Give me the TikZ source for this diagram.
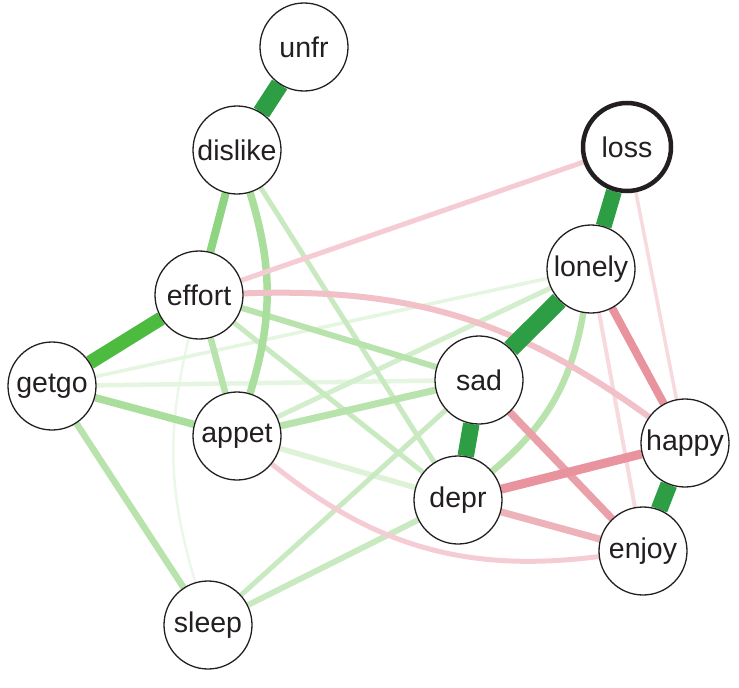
\documentclass[tikz,border=0pt]{standalone}
\usepackage{fontspec}
\setmainfont{Liberation Sans}
\pgfdeclarelayer{bg}
\pgfsetlayers{bg,main}
\definecolor{ink}{HTML}{231F20}
\definecolor{gA}{HTML}{2E9E45}
\definecolor{gB}{HTML}{4CBB3F}
\definecolor{gC}{HTML}{8FD581}
\definecolor{gD}{HTML}{A9DE9C}
\definecolor{gE}{HTML}{B8E3AC}
\definecolor{gF}{HTML}{C9EAC0}
\definecolor{gG}{HTML}{D3EECC}
\definecolor{gH}{HTML}{DDF2D7}
\definecolor{gI}{HTML}{E4F5E0}
\definecolor{gJ}{HTML}{EBF7E8}
\definecolor{pA}{HTML}{E8939D}
\definecolor{pB}{HTML}{E9A0A9}
\definecolor{pC}{HTML}{EEB2BB}
\definecolor{pD}{HTML}{F2C0C7}
\definecolor{pE}{HTML}{F5CCD3}
\definecolor{pF}{HTML}{F7DADE}
\tikzset{
  vnode/.style={circle,draw=ink,line width=1.3pt,fill=white,minimum size=88pt,inner sep=0pt,
    font=\fontsize{28.5}{30}\selectfont,text=ink},
  focus/.style={vnode,line width=4.5pt},
  edge/.style={line cap=butt}
}
\begin{document}
\begin{tikzpicture}[x=1pt,y=1pt]
\useasboundingbox (0,0) rectangle (739,-688);
\node[vnode] (unfr) at (304,-47) {unfr};
\node[vnode] (dislike) at (237,-150) {dislike};
\node[focus] (loss) at (627,-147) {loss};
\node[vnode] (lonely) at (591,-269) {lonely};
\node[vnode] (effort) at (199,-295) {effort};
\node[vnode] (getgo) at (52,-386) {getgo};
\node[vnode] (sad) at (479,-380) {sad};
\node[vnode] (appet) at (237,-436) {appet};
\node[vnode] (happy) at (685,-443) {happy};
\node[vnode] (depr) at (458,-500) {depr};
\node[vnode] (enjoy) at (643,-551) {enjoy};
\node[vnode] (sleep) at (208,-625) {sleep};
\begin{pgfonlayer}{bg}
% faint edges
\draw[edge,gJ,line width=2.5] (effort) to[bend right=15] (sleep);
\draw[edge,gI,line width=3.5] (getgo) -- (lonely);
\draw[edge,gI,line width=4.5] (getgo) -- (sad);
\draw[edge,gH,line width=5.5] (appet) -- (depr);
\draw[edge,gG,line width=5] (appet) -- (lonely);
\draw[edge,gF,line width=5] (dislike) -- (depr);
\draw[edge,gF,line width=5] (effort) -- (depr);
\draw[edge,gF,line width=5] (sad) -- (sleep);
\draw[edge,gF,line width=6] (depr) -- (sleep);
\draw[edge,gE,line width=6.5] (getgo) -- (sleep);
\draw[edge,gE,line width=6] (effort) -- (sad);
\draw[edge,gE,line width=6.5] (effort) -- (appet);
\draw[edge,gE,line width=6.5] (lonely) to[bend left=20] (depr);
\draw[edge,gE,line width=7] (appet) -- (sad);
\draw[edge,gD,line width=7.5] (getgo) -- (appet);
\draw[edge,gD,line width=7.5] (dislike) to[bend left=17] (appet);
\draw[edge,gC,line width=8] (dislike) -- (effort);
% pink edges
\draw[edge,pF,line width=3.5] (loss) -- (happy);
\draw[edge,pF,line width=4] (lonely) -- (enjoy);
\draw[edge,pE,line width=5] (loss) -- (effort);
\draw[edge,pE,line width=5] (appet) to[bend right=23] (enjoy);
\draw[edge,pD,line width=6] (effort) to[bend left=19] (happy);
\draw[edge,pC,line width=7] (depr) -- (enjoy);
\draw[edge,pB,line width=7.5] (sad) -- (enjoy);
\draw[edge,pA,line width=8] (lonely) -- (happy);
\draw[edge,pA,line width=9] (depr) -- (happy);
% strong edges
\draw[edge,gB,line width=14] (effort) -- (getgo);
\draw[edge,gA,line width=18] (unfr) -- (dislike);
\draw[edge,gA,line width=16] (loss) -- (lonely);
\draw[edge,gA,line width=18] (lonely) -- (sad);
\draw[edge,gA,line width=16.5] (sad) -- (depr);
\draw[edge,gA,line width=17] (happy) -- (enjoy);
\end{pgfonlayer}
\end{tikzpicture}
\end{document}
